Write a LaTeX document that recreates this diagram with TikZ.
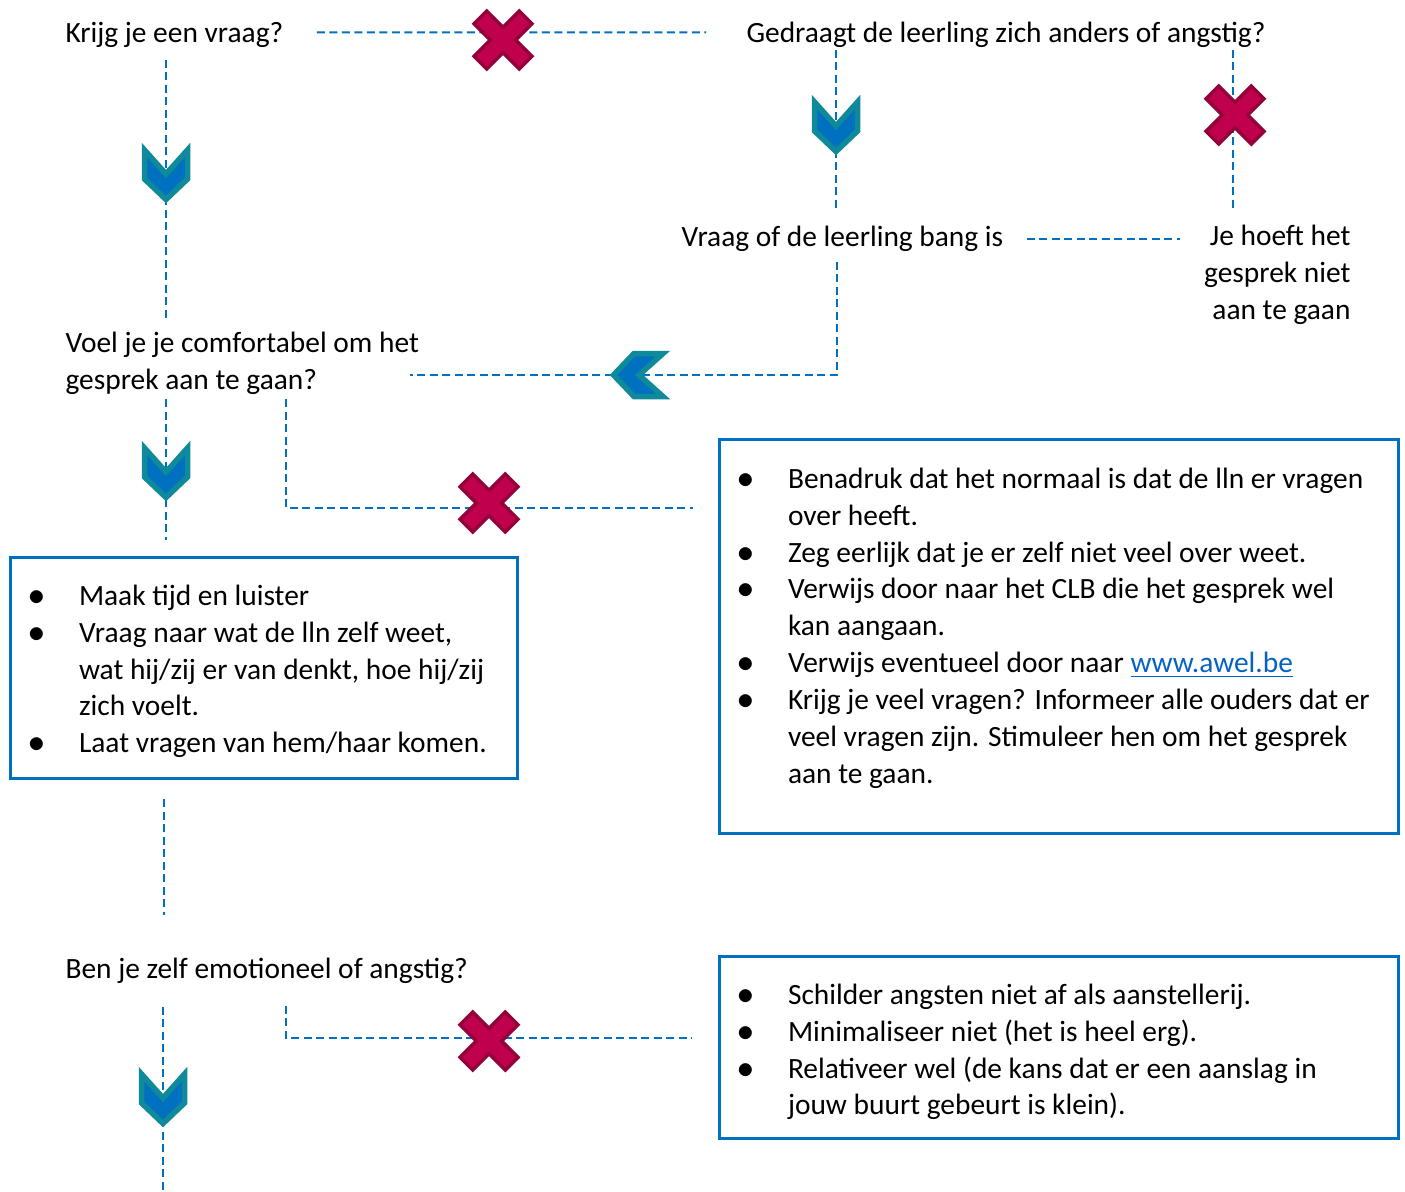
\documentclass[tikz,border=0pt]{standalone}
\usepackage{fontspec}
\setmainfont{Carlito}
\usepackage{enumitem}
\usetikzlibrary{calc}

\newlength{\pxu}
\setlength{\pxu}{0.3773pt}

\definecolor{lineblue}{HTML}{0070C0}
\definecolor{chevteal}{HTML}{0E8A9B}
\definecolor{crossred}{HTML}{C0004D}
\definecolor{crossdark}{HTML}{94003A}
\definecolor{linkblue}{HTML}{0563C1}

\setlist[itemize]{leftmargin=69\pxu, labelsep=34\pxu, itemsep=0pt, parsep=0pt, topsep=0pt, partopsep=0pt, label={\scalebox{1.15}{$\bullet$}}}

\tikzset{
  pics/chevdown/.style={code={
    \filldraw[fill=lineblue, draw=chevteal, line width=5.5\pxu]
      (-21.5,-25) -- (0,-1) -- (21.5,-25) -- (21.5,4) -- (0,24.5) -- (-21.5,4) -- cycle;
  }},
  pics/nocross/.style={code={
    \filldraw[fill=crossred, draw=crossdark, line width=3.5\pxu, rotate=45]
      (9,9) -- (9,32) -- (-9,32) -- (-9,9) -- (-32,9) -- (-32,-9) -- (-9,-9) -- (-9,-32)
      -- (9,-32) -- (9,-9) -- (32,-9) -- (32,9) -- cycle;
  }}
}

\begin{document}
\begin{tikzpicture}[x=1\pxu, y=-1\pxu,
  lbl/.style={inner sep=0pt, font=\fontsize{11.1pt}{13.9pt}\selectfont},
  tipbox/.style={draw=lineblue, line width=3\pxu, inner sep=0pt, outer sep=0pt, anchor=north west, font=\fontsize{11.1pt}{13.9pt}\selectfont},
  flow/.style={draw=lineblue, line width=2\pxu, dash pattern=on 8\pxu off 4.5\pxu}]
\useasboundingbox (0,0) rectangle (1405,1191);

% questions
\node[lbl, anchor=base west] (krijg) at (65,42) {Krijg je een vraag?};
\node[lbl, anchor=base west] (gedraagt) at (746,42) {Gedraagt de leerling zich anders of angstig?};
\node[lbl, anchor=base west] (vraagbang) at (681,246) {Vraag of de leerling bang is};
\node[lbl, anchor=north east, align=right] (hoeftniet) at (1351,225) {Je hoeft het\\gesprek niet\\aan te gaan};
\node[lbl, anchor=north west, align=left] (comfort) at (65,332) {Voel je je comfortabel om het\\gesprek aan te gaan?};
\node[lbl, anchor=base west] (emotioneel) at (65,978) {Ben je zelf emotioneel of angstig?};

% boxes
\node[tipbox] (tipsleft) at (10,557) {\begin{minipage}[t][221\pxu][t]{507\pxu}\raggedright
\vspace*{28\pxu}
\begin{itemize}
\item Maak tijd en luister
\item Vraag naar wat de lln zelf weet,\newline wat hij/zij er van denkt, hoe hij/zij\newline zich voelt.
\item Laat vragen van hem/haar komen.
\end{itemize}
\end{minipage}};
\node[tipbox] (tipsright) at (719,439) {\begin{minipage}[t][394\pxu][t]{679\pxu}\raggedright
\vspace*{29\pxu}
\begin{itemize}
\item Benadruk dat het normaal is dat de lln er vragen\newline over heeft.
\item Zeg eerlijk dat je er zelf niet veel over weet.
\item Verwijs door naar het CLB die het gesprek wel\newline kan aangaan.
\item Verwijs eventueel door naar \textcolor{linkblue}{\underline{www.awel.be}}
\item Krijg je veel vragen? Informeer alle ouders dat er\newline veel vragen zijn. Stimuleer hen om het gesprek\newline aan te gaan.
\end{itemize}
\end{minipage}};
\node[tipbox] (tipsafe) at (719,956) {\begin{minipage}[t][182\pxu][t]{679\pxu}\raggedright
\vspace*{28\pxu}
\begin{itemize}
\item Schilder angsten niet af als aanstellerij.
\item Minimaliseer niet (het is heel erg).
\item Relativeer wel (de kans dat er een aanslag in\newline jouw buurt gebeurt is klein).
\end{itemize}
\end{minipage}};

\coordinate (pagebottom) at (163,1191);

% dashed connectors
\draw[flow] ([shift={(33,-2)}]krijg.east) -- ([shift={(-40,-2)}]gedraagt.west);
\draw[flow] ([shift={(101,12)}]krijg.south west) -- ([shift={(101,-12)}]comfort.north west);
\draw[flow] ([shift={(90,2)}]gedraagt.south west) -- ([shift={(155,-14)}]vraagbang.north west);
\draw[flow] ([shift={(487,2)}]gedraagt.south west) -- ([shift={(-118,-15)}]hoeftniet.north east);
\draw[flow] ([shift={(23,1)}]vraagbang.east) -- ($(hoeftniet.west |- vraagbang.east)+(-24,1)$);
\draw[flow] ([shift={(156,10)}]vraagbang.south west) |- ([shift={(-9,11)}]comfort.east);
\draw[flow] ([shift={(101,4)}]comfort.south west) -- ([shift={(156,-17)}]tipsleft.north west);
\draw[flow] ([shift={(221,4)}]comfort.south west) |- ([shift={(-26,69)}]tipsright.north west);
\draw[flow] ([shift={(154,21)}]tipsleft.south west) -- ([shift={(99,-42)}]emotioneel.north west);
\draw[flow] ([shift={(98,23)}]emotioneel.south west) -- (pagebottom);
\draw[flow] ([shift={(221,22)}]emotioneel.south west) |- ([shift={(-27,82)}]tipsafe.north west);

% markers
\pic at (503,40) {nocross};
\pic at (166,175) {chevdown};
\pic at (836,127) {chevdown};
\pic at (1235,115) {nocross};
\pic[rotate=-90] at (638,375) {chevdown};
\pic at (166,473) {chevdown};
\pic at (489,503) {nocross};
\pic at (489,1041) {nocross};
\pic at (163,1099) {chevdown};
\end{tikzpicture}
\end{document}
